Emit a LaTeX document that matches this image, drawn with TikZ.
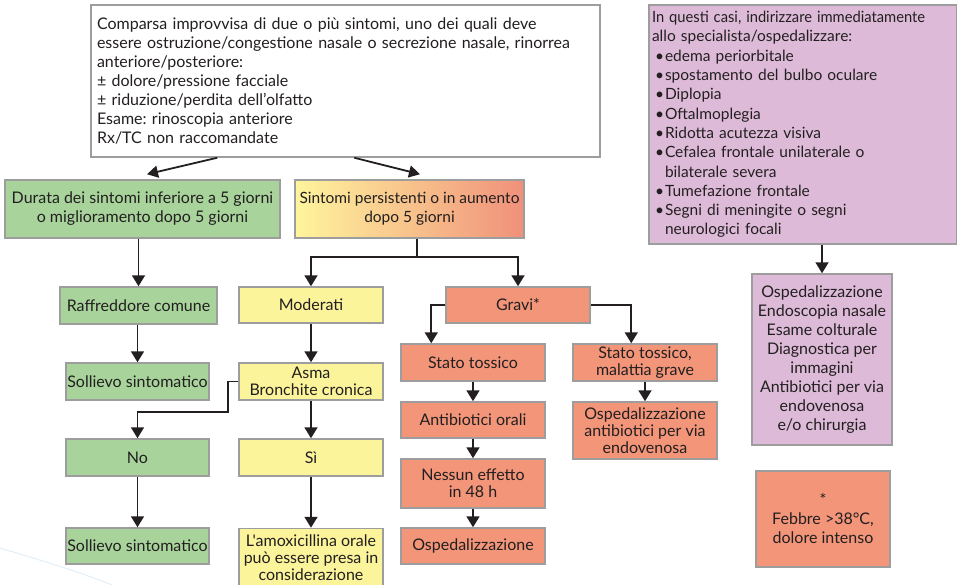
\documentclass[tikz,border=0pt]{standalone}
\usepackage{fontspec}
\setmainfont{Lato}[Ligatures=TeXOff]
\usetikzlibrary{arrows.meta,calc}
\definecolor{grn}{HTML}{A8D49C}
\definecolor{yel}{HTML}{FBF49B}
\definecolor{sal}{HTML}{F29579}
\definecolor{pnk}{HTML}{DDBBD8}
\definecolor{bord}{HTML}{9D9D9D}
\definecolor{txt}{HTML}{231F20}
\definecolor{gyel}{HTML}{FFF59D}
\definecolor{gmid}{HTML}{F8C48A}
\definecolor{gsal}{HTML}{F0907A}
\definecolor{swoosh}{HTML}{E3EEF7}
\newcommand\myfs{\frenchspacing\fontsize{16}{17}\selectfont}
\newcommand\myfsw{\frenchspacing\fontsize{16}{19}\selectfont}
\newcommand\pbul[1]{\makebox[13pt][l]{\hspace{3pt}\textbullet}#1}
\newcommand\pcont[1]{\makebox[13pt][l]{}#1}
\begin{document}
\begin{tikzpicture}[x=1pt,y=-1pt,
  box/.style={draw=bord, line width=1.5pt, inner sep=0pt, align=center, text=txt, font=\myfs},
  wbox/.style={box, font=\myfsw},
  conn/.style={line width=1.8pt, draw=txt},
  arr/.style={conn, -{Triangle[length=11pt,width=13pt]}},
  darr/.style={conn, -{Triangle[length=11pt,width=12pt]}}]
\useasboundingbox (0,0) rectangle (957,585);
\fill[white] (0,0) rectangle (957,585);
% faint decorative swoosh
\draw[swoosh, line width=1pt] (0,548) .. controls (40,560) and (80,572) .. (112,585);

% top box
\node[wbox, fill=white, align=left, text width=497pt, inner xsep=6pt, minimum height=152pt] (top) at (345.5,81)
 {Comparsa improvvisa di due o più sintomi, uno dei quali deve\\
  essere ostruzione/congestione nasale o secrezione nasale, rinorrea\\
  anteriore/posteriore:\\
  ± dolore/pressione facciale\\
  ± riduzione/perdita dell’olfatto\\
  Esame: rinoscopia anteriore\\
  Rx/TC non raccomandate};

% pink box 1
\node[box, font=\frenchspacing\fontsize{15.5}{19.3}\selectfont, fill=pnk, align=left, text width=302pt, inner xsep=3pt, minimum height=239pt] (pk1) at (803,124.5)
 {\scalebox{0.95}[1]{In questi casi, indirizzare immediatamente}\\
  allo specialista/ospedalizzare:\\
  \pbul{edema periorbitale}\\
  \pbul{spostamento del bulbo oculare}\\
  \pbul{Diplopia}\\
  \pbul{Oftalmoplegia}\\
  \pbul{Ridotta acutezza visiva}\\
  \pbul{Cefalea frontale unilaterale o}\\
  \pcont{bilaterale severa}\\
  \pbul{Tumefazione frontale}\\
  \pbul{Segni di meningite o segni}\\
  \pcont{neurologici focali}};

% second row
\node[wbox, fill=grn, minimum width=275pt, minimum height=58pt] (g1) at (142.5,209)
 {Durata dei sintomi inferiore a 5 giorni\\o miglioramento dopo 5 giorni};
\node[wbox, font=\frenchspacing\fontsize{15.5}{19}\selectfont, left color=gyel, middle color=gmid, right color=gsal, minimum width=229pt, minimum height=58pt] (grad) at (409.5,209)
 {Sintomi persistenti o in aumento\\dopo 5 giorni};

% green column
\node[box, fill=grn, minimum width=157pt, minimum height=37pt] (raff) at (138.5,305.5) {Raffreddore comune};
\node[box, fill=grn, minimum width=143pt, minimum height=37pt] (sol1) at (137.5,381.5) {Sollievo sintomatico};
\node[box, fill=grn, minimum width=143pt, minimum height=37pt] (no) at (137.5,457.5) {No};
\node[box, fill=grn, minimum width=143pt, minimum height=36pt] (sol2) at (137.5,546) {Sollievo sintomatico};

% yellow column
\node[box, fill=yel, minimum width=144pt, minimum height=36pt] (mod) at (311,305) {Moderati};
\node[box, fill=yel, minimum width=144pt, minimum height=37pt] (asma) at (311,381.5) {Asma\\Bronchite cronica};
\node[box, fill=yel, minimum width=144pt, minimum height=37pt] (si) at (311,457.5) {Sì};
\node[box, fill=yel, minimum width=144pt, minimum height=58pt] (amox) at (311,557.5)
 {L'amoxicillina orale\\può essere presa in\\considerazione};

% salmon columns
\node[box, fill=sal, minimum width=144pt, minimum height=36pt] (gravi) at (518,305) {Gravi*};
\node[box, fill=sal, minimum width=144pt, minimum height=37pt] (st) at (473,362.5) {Stato tossico};
\node[box, fill=sal, minimum width=144pt, minimum height=36pt] (ab) at (473,420) {Antibiotici orali};
\node[box, fill=sal, minimum width=144pt, minimum height=49pt] (ne) at (473,483.5) {Nessun effetto\\in 48 h};
\node[box, fill=sal, minimum width=144pt, minimum height=36pt] (osp) at (473,546) {Ospedalizzazione};
\node[box, fill=sal, minimum width=144pt, minimum height=37pt] (sg) at (645,362.5) {Stato tossico,\\malattia grave};
\node[box, fill=sal, minimum width=144pt, minimum height=57pt] (ospiv) at (645,430.5)
 {Ospedalizzazione\\antibiotici per via\\endovenosa};

% pink box 2 and footnote box
\node[wbox, fill=pnk, minimum width=140pt, minimum height=171pt] (pk2) at (822,359.5)
 {Ospedalizzazione\\Endoscopia nasale\\Esame colturale\\Diagnostica per\\immagini\\Antibiotici per via\\endovenosa\\e/o chirurgia};
\node[wbox, fill=sal, minimum width=134pt, minimum height=96pt] (feb) at (823,519)
 {*\\Febbre >38°C,\\dolore intenso};

% connectors
\draw[darr] ($(top.south west)+(127,0)$) -- ($(g1.north)+(4.5,-5)$);
\draw[darr] ($(top.south west)+(264,0)$) -- ($(grad.north)+(10.5,-5)$);

\draw[arr] (raff.north |- g1.south) -- (raff.north);
\draw[arr] (sol1.north |- raff.south) -- (sol1.north);
\draw[arr] (sol2.north |- no.south) -- (sol2.north);

\coordinate (split) at (417,257);
\draw[conn] (split |- grad.south) -- (split);
\draw[arr] (split) -| (mod.north);
\draw[arr] (split) -| (gravi.north);

\draw[arr] (mod.south) -- (asma.north);
\draw[arr] (asma.south) -- (si.north);
\draw[arr] (si.south) -- (amox.north);
\coordinate (bend) at (228,412);
\draw[arr] (asma.west) -| (bend) -| (no.north);

\draw[arr] (gravi.west) -| ($(st.north west)+(31,0)$);
\draw[arr] (gravi.east) -| ($(sg.north west)+(59,0)$);
\draw[arr] (st.south) -- (ab.north);
\draw[arr] (ab.south) -- (ne.north);
\draw[arr] (ne.south) -- (osp.north);
\draw[arr] (sg.south) -- (ospiv.north);

\draw[arr] (pk2.north |- pk1.south) -- (pk2.north);
\end{tikzpicture}
\end{document}
